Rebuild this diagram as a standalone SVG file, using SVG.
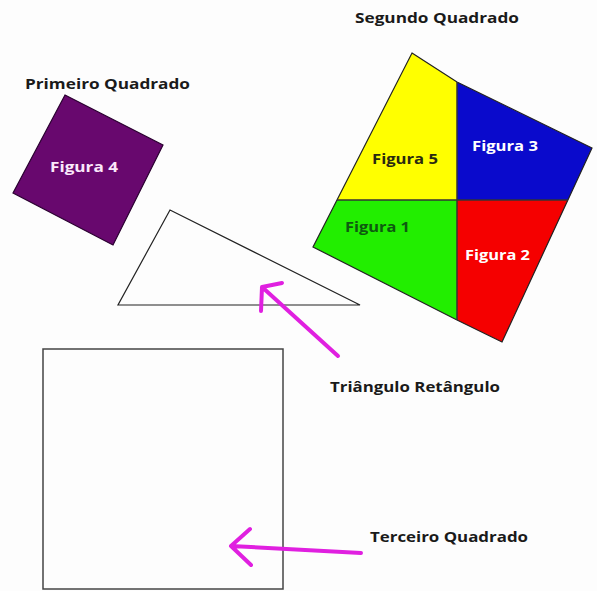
<svg xmlns="http://www.w3.org/2000/svg" width="597" height="591" viewBox="0 0 597 591">
<style>
.lbl{font-family:"Open Sans","Liberation Sans",sans-serif;font-weight:bold;font-size:15px;fill:#1a1a1a}
.fig{font-family:"Open Sans","Liberation Sans",sans-serif;font-weight:bold;font-size:14px}
.edge{fill:none;stroke:#222;stroke-width:1.2}
.arrow{fill:none;stroke:#e020e0;stroke-width:4;stroke-linecap:round;stroke-linejoin:round}
</style>
<rect width="597" height="591" fill="#fdfdfd"/>

<g id="primeiro-quadrado">
  <polygon points="65,95 163,145 113,245 13,193" fill="#68086e" stroke="#2a0030" stroke-width="1.2"/>
  <text class="fig" x="50" y="172" textLength="68" lengthAdjust="spacingAndGlyphs" fill="#fbe8fb">Figura 4</text>
</g>
<text class="lbl" x="25" y="89" textLength="165" lengthAdjust="spacingAndGlyphs">Primeiro Quadrado</text>

<g id="segundo-quadrado">
  <polygon id="figura5" points="412,53 457,82 457,200 337,200" fill="#ffff00"/>
  <polygon id="figura3" points="457,82 592,148 568,200 457,200" fill="#0a0acc"/>
  <polygon id="figura2" points="457,200 568,200 502,342 457,320" fill="#f50000"/>
  <polygon id="figura1" points="337,200 457,200 457,320 313,247" fill="#22ee00"/>
  <polygon points="412,53 457,82 592,148 502,342 457,320 313,247" class="edge"/>
  <line x1="457" y1="82" x2="457" y2="320" stroke="#333" stroke-width="1.5"/>
  <line x1="337" y1="200" x2="568" y2="200" stroke="#333" stroke-width="1.5"/>
  <text class="fig" x="372" y="164" textLength="66" lengthAdjust="spacingAndGlyphs" fill="#2a2a10">Figura 5</text>
  <text class="fig" x="472" y="151" textLength="66" lengthAdjust="spacingAndGlyphs" fill="#ffffff">Figura 3</text>
  <text class="fig" x="345" y="232" textLength="65" lengthAdjust="spacingAndGlyphs" fill="#0e5a10">Figura 1</text>
  <text class="fig" x="465" y="260" textLength="65" lengthAdjust="spacingAndGlyphs" fill="#ffffff">Figura 2</text>
</g>
<text class="lbl" x="355" y="23" textLength="164" lengthAdjust="spacingAndGlyphs">Segundo Quadrado</text>

<g id="triangulo">
  <polygon points="170,210 118,305 360,305" class="edge"/>
</g>
<text class="lbl" x="330" y="392" textLength="170" lengthAdjust="spacingAndGlyphs">Triângulo Retângulo</text>

<g id="terceiro-quadrado">
  <rect x="43" y="349" width="240" height="240" fill="none" stroke="#444" stroke-width="1.5"/>
</g>
<text class="lbl" x="370" y="542" textLength="158" lengthAdjust="spacingAndGlyphs">Terceiro Quadrado</text>

<g id="connectors">
  <path class="arrow" d="M338,356 L262,287 M282,283 L262,287 L261,311"/>
  <path class="arrow" d="M361,553 L231,546 M250,529 L231,546 L251,565"/>
</g>
</svg>
